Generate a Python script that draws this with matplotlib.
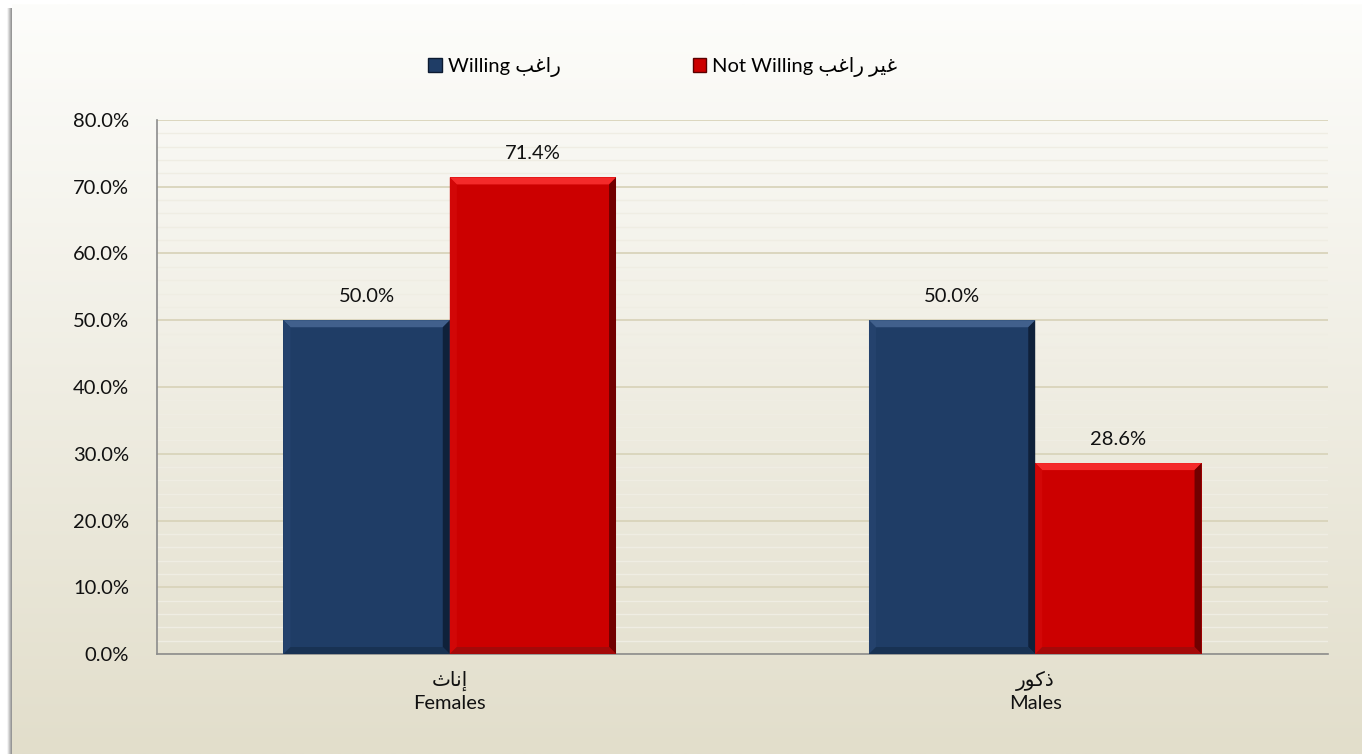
import matplotlib
matplotlib.use('Agg')
import matplotlib.pyplot as plt
from matplotlib.patches import Patch, Polygon
from matplotlib.ticker import MultipleLocator, PercentFormatter
import numpy as np

plt.rcParams['font.family'] = ['Lato', 'DejaVu Sans']

# Arabic written in visual (shaped) order so matplotlib shows it joined
ar_willing = '\uFE90\uFECF\uFE8D\uFEAD'                     # راغب
ar_not_willing = '\uFE90\uFECF\uFE8D\uFEAD \uFEAE\uFEF4\uFECF'  # غير راغب
ar_females = '\uFE99\uFE8E\uFEE7\uFE87'                     # إناث
ar_males = '\uFEAD\uFEEE\uFEDB\uFEAB'                       # ذكور

categories = [ar_females + '\nFemales', ar_males + '\nMales']
series_names = ['Willing ' + ar_willing, 'Not Willing ' + ar_not_willing]
willing = [50.0, 50.0]
not_willing = [71.4, 28.6]

colors = ['#1f3d66', '#cc0000']
bevel = {
    '#1f3d66': ('#4a6a96', '#26446f', '#0c1a30', '#17304f'),
    '#cc0000': ('#ff3535', '#d40a0a', '#5a0000', '#9a0c0c'),
}
fs = 14.5

fig = plt.figure(figsize=(13.62, 7.54), dpi=100)

# background panel with vertical gradient and a soft left/top shadow
bg = fig.add_axes([12 / 1362, 0, 1 - 12 / 1362, 1 - 4 / 754], zorder=-2)
grad = np.linspace(0, 1, 256).reshape(-1, 1)
top_c = np.array([253, 253, 251]) / 255
bot_c = np.array([226, 222, 203]) / 255
img = top_c + (bot_c - top_c) * grad
bg.imshow(img[:, None, :].repeat(2, axis=1), aspect='auto', extent=[0, 1, 0, 1], origin='upper')
bg.set_axis_off()
shadow = fig.add_axes([7 / 1362, 0, 5 / 1362, 1 - 8 / 754], zorder=-3)
shadow.imshow(np.linspace(1, 0.55, 32).reshape(1, -1), cmap='gray', vmin=0, vmax=1,
              aspect='auto', extent=[0, 1, 0, 1])
shadow.set_axis_off()

ax = fig.add_axes([157 / 1362, 1 - 654 / 754, (1328 - 157) / 1362, (654 - 120) / 754])
ax.set_facecolor('none')

x = np.arange(len(categories))
w = 0.284
bars_w = ax.bar(x - w / 2, willing, w, color=colors[0], zorder=3)
bars_n = ax.bar(x + w / 2, not_willing, w, color=colors[1], zorder=3)

ax.set_xlim(-0.5, 1.5)
ax.set_ylim(0, 80)
ax.yaxis.set_major_locator(MultipleLocator(10))
ax.yaxis.set_minor_locator(MultipleLocator(2))
ax.yaxis.set_major_formatter(PercentFormatter(decimals=1))
ax.grid(axis='y', which='major', color='#d9d4bb', linewidth=1.3, zorder=0)
ax.grid(axis='y', which='minor', color='#efede3', linewidth=1.0, zorder=0)
ax.set_axisbelow(True)

ax.set_xticks(x)
ax.set_xticklabels(categories, fontsize=fs, linespacing=1.3)
ax.tick_params(axis='both', which='both', length=0, labelsize=fs, labelcolor='#111111')
ax.tick_params(axis='x', pad=12)
ax.tick_params(axis='y', pad=20)
for s in ['top', 'right']:
    ax.spines[s].set_visible(False)
for s in ['left', 'bottom']:
    ax.spines[s].set_color('#8c8c8c')
    ax.spines[s].set_linewidth(1.2)

# bevel effect on every bar
d = 7
for bars, c in ((bars_w, colors[0]), (bars_n, colors[1])):
    t, l, r, btm = bevel[c]
    for b in bars:
        x0, y0 = ax.transData.transform((b.get_x(), 0))
        x1, y1 = ax.transData.transform((b.get_x() + b.get_width(), b.get_height()))
        polys = [
            ([(x0, y1), (x1, y1), (x1 - d, y1 - d), (x0 + d, y1 - d)], t),
            ([(x0, y0), (x0, y1), (x0 + d, y1 - d), (x0 + d, y0 + d)], l),
            ([(x1, y0), (x1, y1), (x1 - d, y1 - d), (x1 - d, y0 + d)], r),
            ([(x0, y0), (x1, y0), (x1 - d, y0 + d), (x0 + d, y0 + d)], btm),
        ]
        for pts, pc in polys:
            fig.patches.append(Polygon(pts, closed=True, transform=None, facecolor=pc,
                                       edgecolor='none', alpha=0.8, zorder=4, figure=fig))
        ax.annotate('%.1f%%' % b.get_height(), (b.get_x() + b.get_width() / 2, b.get_height()),
                    xytext=(0, 11), textcoords='offset points', ha='center', va='bottom',
                    fontsize=fs, color='#111111')

handles = [Patch(facecolor=c, edgecolor=bevel[c][2]) for c in colors]
fig.legend(handles, series_names, loc='center', bbox_to_anchor=(663 / 1362, 1 - 67 / 754),
           ncol=2, frameon=False, fontsize=fs, handlelength=0.65, handleheight=0.65,
           handletextpad=0.3, columnspacing=6.6)

fig.savefig('out.png', dpi=100)
